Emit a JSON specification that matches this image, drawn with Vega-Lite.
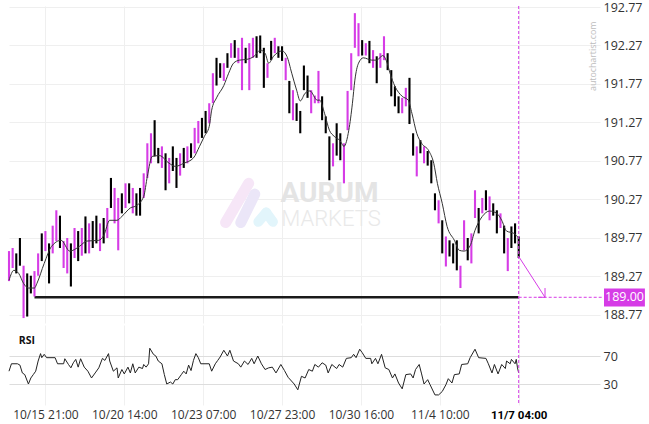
{
 "$schema": "https://vega.github.io/schema/vega-lite/v6.json",
 "padding": {"left": 7, "top": 1, "right": 0, "bottom": 0},
 "background": "white",
 "config": {"view": {"stroke": null}, "concat": {"spacing": 0}, "font": "Open Sans"},
 "datasets": {
  "candles": [
   {"i":0,"h":189.60,"l":189.21,"d":"up"},{"i":3,"h":189.64,"l":189.38,"d":"up"},{"i":6,"h":189.57,"l":189.31,"d":"down"},{"i":9,"h":189.77,"l":189.41,"d":"down"},
   {"i":12,"h":189.41,"l":188.73,"d":"up"},{"i":15,"h":189.31,"l":188.75,"d":"down"},{"i":18,"h":189.28,"l":189.05,"d":"down"},{"i":21,"h":189.34,"l":189.01,"d":"up"},
   {"i":24,"h":189.57,"l":189.28,"d":"up"},{"i":27,"h":189.83,"l":189.47,"d":"down"},{"i":30,"h":189.86,"l":189.60,"d":"up"},{"i":33,"h":189.70,"l":189.18,"d":"down"},
   {"i":36,"h":189.93,"l":189.57,"d":"up"},{"i":39,"h":190.13,"l":189.73,"d":"up"},{"i":42,"h":190.06,"l":189.64,"d":"down"},{"i":45,"h":189.73,"l":189.38,"d":"up"},
   {"i":48,"h":189.77,"l":189.31,"d":"up"},{"i":51,"h":189.70,"l":189.14,"d":"down"},{"i":54,"h":189.90,"l":189.51,"d":"up"},{"i":57,"h":189.86,"l":189.47,"d":"down"},
   {"i":60,"h":189.90,"l":189.54,"d":"up"},{"i":63,"h":190.05,"l":189.57,"d":"down"},{"i":66,"h":189.96,"l":189.57,"d":"up"},{"i":69,"h":189.99,"l":189.64,"d":"down"},
   {"i":72,"h":190.06,"l":189.70,"d":"down"},{"i":75,"h":189.96,"l":189.60,"d":"up"},{"i":78,"h":190.03,"l":189.70,"d":"down"},{"i":81,"h":190.16,"l":189.77,"d":"up"},
   {"i":84,"h":190.55,"l":190.16,"d":"down"},{"i":87,"h":190.42,"l":189.96,"d":"up"},{"i":90,"h":190.29,"l":189.61,"d":"up"},{"i":93,"h":190.35,"l":190.09,"d":"down"},
   {"i":96,"h":190.48,"l":190.16,"d":"up"},{"i":99,"h":190.48,"l":190.22,"d":"down"},{"i":102,"h":190.42,"l":190.09,"d":"up"},{"i":105,"h":190.35,"l":190.06,"d":"down"},
   {"i":108,"h":190.42,"l":190.06,"d":"down"},{"i":111,"h":190.61,"l":190.29,"d":"up"},{"i":114,"h":191.00,"l":190.55,"d":"up"},{"i":117,"h":191.13,"l":190.74,"d":"up"},
   {"i":120,"h":191.30,"l":190.83,"d":"down"},{"i":123,"h":190.94,"l":190.74,"d":"down"},{"i":126,"h":190.96,"l":190.68,"d":"up"},{"i":129,"h":190.87,"l":190.39,"d":"down"},
   {"i":132,"h":190.81,"l":190.48,"d":"up"},{"i":135,"h":190.96,"l":190.64,"d":"down"},{"i":138,"h":190.81,"l":190.42,"d":"down"},{"i":141,"h":190.87,"l":190.58,"d":"up"},
   {"i":144,"h":190.94,"l":190.68,"d":"down"},{"i":147,"h":190.96,"l":190.74,"d":"up"},{"i":150,"h":191.00,"l":190.81,"d":"down"},{"i":153,"h":191.20,"l":190.87,"d":"up"},
   {"i":156,"h":191.29,"l":191.00,"d":"up"},{"i":159,"h":191.33,"l":191.07,"d":"down"},{"i":162,"h":191.42,"l":191.13,"d":"down"},{"i":165,"h":191.52,"l":191.26,"d":"up"},
   {"i":168,"h":191.91,"l":191.52,"d":"up"},{"i":171,"h":192.11,"l":191.75,"d":"down"},{"i":174,"h":192.04,"l":191.85,"d":"down"},{"i":177,"h":192.04,"l":191.81,"d":"up"},
   {"i":180,"h":192.17,"l":191.98,"d":"down"},{"i":183,"h":192.30,"l":192.11,"d":"up"},{"i":186,"h":192.34,"l":192.11,"d":"down"},{"i":189,"h":192.24,"l":192.04,"d":"up"},
   {"i":192,"h":192.37,"l":191.69,"d":"up"},{"i":195,"h":192.24,"l":192.04,"d":"down"},{"i":198,"h":192.30,"l":191.69,"d":"up"},{"i":201,"h":192.37,"l":192.11,"d":"up"},
   {"i":204,"h":192.39,"l":192.11,"d":"down"},{"i":207,"h":192.40,"l":192.17,"d":"down"},{"i":210,"h":192.24,"l":191.72,"d":"down"},{"i":213,"h":192.04,"l":191.85,"d":"up"},
   {"i":216,"h":192.33,"l":192.08,"d":"down"},{"i":219,"h":192.37,"l":192.17,"d":"up"},{"i":222,"h":192.26,"l":192.11,"d":"down"},{"i":225,"h":192.26,"l":192.07,"d":"down"},
   {"i":228,"h":192.11,"l":191.82,"d":"up"},{"i":231,"h":191.81,"l":191.39,"d":"down"},{"i":234,"h":191.69,"l":191.30,"d":"up"},{"i":237,"h":191.52,"l":191.29,"d":"down"},
   {"i":240,"h":191.42,"l":191.13,"d":"down"},{"i":243,"h":192.01,"l":191.69,"d":"down"},{"i":246,"h":191.88,"l":191.59,"d":"down"},{"i":249,"h":191.69,"l":191.39,"d":"up"},
   {"i":252,"h":191.62,"l":191.52,"d":"up"},{"i":255,"h":191.94,"l":191.52,"d":"up"},{"i":258,"h":191.61,"l":191.30,"d":"down"},{"i":261,"h":191.35,"l":191.13,"d":"down"},
   {"i":264,"h":191.09,"l":190.52,"d":"down"},{"i":267,"h":191.00,"l":190.70,"d":"up"},{"i":270,"h":191.26,"l":190.84,"d":"down"},{"i":273,"h":191.13,"l":190.78,"d":"down"},
   {"i":276,"h":191.00,"l":190.48,"d":"up"},{"i":279,"h":191.68,"l":191.17,"d":"up"},{"i":282,"h":192.17,"l":191.69,"d":"up"},{"i":285,"h":192.69,"l":192.24,"d":"up"},
   {"i":288,"h":192.56,"l":192.13,"d":"up"},{"i":291,"h":192.34,"l":192.14,"d":"down"},{"i":294,"h":192.30,"l":192.14,"d":"up"},{"i":297,"h":192.33,"l":192.04,"d":"down"},
   {"i":300,"h":192.21,"l":191.98,"d":"up"},{"i":303,"h":192.13,"l":191.78,"d":"down"},{"i":306,"h":192.17,"l":191.98,"d":"up"},{"i":309,"h":192.39,"l":192.08,"d":"up"},
   {"i":312,"h":192.17,"l":191.95,"d":"down"},{"i":315,"h":191.95,"l":191.61,"d":"down"},{"i":318,"h":191.74,"l":191.48,"d":"down"},{"i":321,"h":191.61,"l":191.39,"d":"down"},
   {"i":324,"h":191.59,"l":191.39,"d":"up"},{"i":327,"h":191.72,"l":191.48,"d":"up"},{"i":330,"h":191.85,"l":191.25,"d":"down"},{"i":333,"h":191.13,"l":190.84,"d":"down"},
   {"i":336,"h":190.96,"l":190.57,"d":"up"},{"i":339,"h":191.04,"l":190.87,"d":"down"},{"i":342,"h":190.96,"l":190.74,"d":"up"},{"i":345,"h":190.90,"l":190.71,"d":"down"},
   {"i":348,"h":190.78,"l":190.48,"d":"down"},{"i":351,"h":190.35,"l":190.13,"d":"down"},{"i":354,"h":190.26,"l":189.96,"d":"up"},{"i":357,"h":190.00,"l":189.57,"d":"down"},
   {"i":360,"h":189.79,"l":189.40,"d":"up"},{"i":363,"h":189.74,"l":189.53,"d":"down"},{"i":366,"h":189.70,"l":189.44,"d":"down"},{"i":369,"h":189.74,"l":189.35,"d":"down"},
   {"i":372,"h":189.41,"l":189.12,"d":"up"},{"i":375,"h":190.00,"l":189.61,"d":"up"},{"i":378,"h":189.77,"l":189.48,"d":"down"},{"i":381,"h":189.83,"l":189.44,"d":"up"},
   {"i":384,"h":190.39,"l":190.03,"d":"up"},{"i":387,"h":190.16,"l":189.83,"d":"down"},{"i":390,"h":190.29,"l":190.09,"d":"up"},{"i":393,"h":190.39,"l":190.13,"d":"down"},
   {"i":396,"h":190.31,"l":190.00,"d":"up"},{"i":399,"h":190.22,"l":190.06,"d":"down"},{"i":402,"h":190.13,"l":189.83,"d":"down"},{"i":405,"h":190.09,"l":189.90,"d":"up"},
   {"i":408,"h":189.93,"l":189.57,"d":"down"},{"i":411,"h":189.77,"l":189.34,"d":"up"},{"i":414,"h":189.92,"l":189.64,"d":"down"},{"i":417,"h":189.96,"l":189.70,"d":"down"},
   {"i":420,"h":189.79,"l":189.51,"d":"down"}
  ],
  "ma": [
   {"i":0,"v":189.22},{"i":4,"v":189.35},{"i":8,"v":189.31},{"i":12,"v":189.18},{"i":16,"v":189.12},{"i":21,"v":189.12},{"i":23,"v":189.18},{"i":29,"v":189.44},
   {"i":35,"v":189.66},{"i":43,"v":189.74},{"i":50,"v":189.60},{"i":58,"v":189.66},{"i":64,"v":189.73},{"i":74,"v":189.74},{"i":78,"v":189.80},{"i":83,"v":190.00},
   {"i":89,"v":190.00},{"i":93,"v":190.05},{"i":100,"v":190.16},{"i":105,"v":190.19},{"i":111,"v":190.31},{"i":114,"v":190.57},{"i":118,"v":190.83},{"i":124,"v":190.84},
   {"i":132,"v":190.74},{"i":137,"v":190.70},{"i":144,"v":190.74},{"i":152,"v":190.81},{"i":157,"v":190.96},{"i":161,"v":191.09},{"i":165,"v":191.22},{"i":167,"v":191.43},
   {"i":171,"v":191.59},{"i":177,"v":191.75},{"i":181,"v":191.91},{"i":185,"v":192.04},{"i":190,"v":192.08},{"i":196,"v":192.09},{"i":202,"v":192.13},{"i":207,"v":192.21},
   {"i":211,"v":192.17},{"i":214,"v":192.04},{"i":218,"v":192.13},{"i":225,"v":192.20},{"i":229,"v":192.13},{"i":233,"v":191.91},{"i":237,"v":191.69},{"i":240,"v":191.55},
   {"i":244,"v":191.65},{"i":248,"v":191.68},{"i":254,"v":191.56},{"i":256,"v":191.56},{"i":260,"v":191.39},{"i":264,"v":191.17},{"i":268,"v":191.09},{"i":273,"v":191.03},
   {"i":276,"v":190.96},{"i":280,"v":191.17},{"i":283,"v":191.52},{"i":285,"v":191.82},{"i":288,"v":192.04},{"i":292,"v":192.11},{"i":299,"v":192.08},{"i":303,"v":192.08},
   {"i":308,"v":192.14},{"i":311,"v":192.07},{"i":314,"v":191.91},{"i":318,"v":191.74},{"i":324,"v":191.61},{"i":329,"v":191.56},{"i":332,"v":191.39},{"i":336,"v":191.13},
   {"i":340,"v":191.00},{"i":346,"v":190.90},{"i":350,"v":190.74},{"i":353,"v":190.48},{"i":357,"v":190.22},{"i":361,"v":189.92},{"i":367,"v":189.74},{"i":371,"v":189.61},
   {"i":375,"v":189.60},{"i":380,"v":189.67},{"i":384,"v":189.87},{"i":390,"v":190.05},{"i":396,"v":190.12},{"i":402,"v":190.09},{"i":406,"v":190.00},{"i":410,"v":189.86},
   {"i":416,"v":189.83},{"i":420,"v":189.77}
  ],
  "rsi": [
   {"i":0,"v":48.3},{"i":2,"v":58.9},{"i":7,"v":58.9},{"i":9,"v":57},{"i":11,"v":45.8},{"i":13,"v":43.4},{"i":16,"v":30},{"i":18,"v":38.6},{"i":20,"v":43.4},{"i":22,"v":48.3},
   {"i":24,"v":62.8},{"i":26,"v":73.4},{"i":27,"v":67.6},{"i":29,"v":72.4},{"i":31,"v":67.6},{"i":38,"v":67.6},{"i":40,"v":58.9},{"i":45,"v":58.9},{"i":46,"v":66.1},{"i":49,"v":57.9},
   {"i":51,"v":53.1},{"i":53,"v":60.3},{"i":55,"v":65.2},{"i":57,"v":54.1},{"i":59,"v":66.1},{"i":62,"v":54.1},{"i":65,"v":48.3},{"i":68,"v":38.6},{"i":71,"v":45.8},{"i":74,"v":53.1},
   {"i":77,"v":66.6},{"i":79,"v":63.7},{"i":82,"v":73.4},{"i":83,"v":62.8},{"i":86,"v":48.3},{"i":89,"v":53.1},{"i":90,"v":38.6},{"i":93,"v":50.7},{"i":95,"v":44.4},{"i":98,"v":54.1},
   {"i":100,"v":45.8},{"i":102,"v":58.9},{"i":104,"v":45.8},{"i":107,"v":54.1},{"i":110,"v":52.1},{"i":111,"v":57.9},{"i":113,"v":54.1},{"i":115,"v":58.9},{"i":116,"v":81.1},{"i":119,"v":72.4},
   {"i":121,"v":70},{"i":123,"v":62.8},{"i":126,"v":58.9},{"i":128,"v":43.4},{"i":130,"v":30},{"i":133,"v":32.8},{"i":135,"v":30},{"i":137,"v":36.2},{"i":139,"v":36.2},{"i":142,"v":43.4},
   {"i":144,"v":48.3},{"i":146,"v":44.4},{"i":148,"v":57},{"i":150,"v":49.2},{"i":152,"v":63.7},{"i":154,"v":73.4},{"i":156,"v":67.6},{"i":158,"v":58.9},{"i":165,"v":58.9},{"i":167,"v":48.3},
   {"i":170,"v":58.9},{"i":172,"v":63.7},{"i":174,"v":68.6},{"i":177,"v":78.2},{"i":180,"v":70},{"i":182,"v":78.2},{"i":185,"v":62.8},{"i":189,"v":58.9},{"i":191,"v":54.1},{"i":194,"v":62.8},
   {"i":197,"v":57.9},{"i":200,"v":66.6},{"i":202,"v":58.9},{"i":205,"v":70},{"i":208,"v":58.9},{"i":211,"v":50.7},{"i":214,"v":53.1},{"i":217,"v":54.1},{"i":220,"v":45.8},{"i":224,"v":57.9},
   {"i":227,"v":49.2},{"i":230,"v":39.6},{"i":235,"v":30},{"i":238,"v":21.7},{"i":241,"v":41},{"i":244,"v":38.6},{"i":247,"v":50.7},{"i":250,"v":48.3},{"i":252,"v":57.9},{"i":255,"v":54.1},
   {"i":258,"v":60.3},{"i":261,"v":57},{"i":263,"v":45.8},{"i":266,"v":57.9},{"i":270,"v":52.1},{"i":272,"v":57.9},{"i":275,"v":54.1},{"i":278,"v":66.6},{"i":282,"v":67.6},{"i":284,"v":72.4},
   {"i":286,"v":67.6},{"i":289,"v":79.7},{"i":291,"v":74.9},{"i":294,"v":66.6},{"i":298,"v":66.6},{"i":299,"v":58.9},{"i":302,"v":66.6},{"i":304,"v":58.9},{"i":307,"v":72.4},{"i":310,"v":53.1},
   {"i":313,"v":50.7},{"i":316,"v":38.6},{"i":318,"v":44.4},{"i":321,"v":31.4},{"i":324,"v":23.1},{"i":327,"v":43.4},{"i":331,"v":44.4},{"i":333,"v":38.6},{"i":335,"v":50.7},{"i":338,"v":57.9},
   {"i":340,"v":44.4},{"i":342,"v":30},{"i":345,"v":36.2},{"i":347,"v":28.9},{"i":351,"v":14.4},{"i":354,"v":14.4},{"i":357,"v":19.3},{"i":360,"v":28.9},{"i":362,"v":37.6},{"i":365,"v":31.4},
   {"i":367,"v":43.4},{"i":371,"v":44.4},{"i":373,"v":57.9},{"i":378,"v":58.9},{"i":380,"v":67.6},{"i":384,"v":79.7},{"i":387,"v":67.6},{"i":393,"v":66.6},{"i":395,"v":58.9},{"i":398,"v":45.8},
   {"i":400,"v":57.9},{"i":403,"v":44.4},{"i":406,"v":57.9},{"i":409,"v":52.1},{"i":410,"v":62.8},{"i":413,"v":58.9},{"i":414,"v":65.2},{"i":417,"v":58.9},{"i":418,"v":65.2},{"i":419,"v":53.1},
   {"i":420,"v":45.8}
  ],
  "level": [{"i": 21, "i2": 420, "p": 189.0}],
  "arrow": [
   {"i": 420, "p": 189.53, "i2": 441.7, "p2": 189.0},
   {"i": 441.7, "p": 189.0, "i2": 441.7, "p2": 189.12},
   {"i": 441.7, "p": 189.0, "i2": 436, "p2": 189.0}
  ]
 },
 "vconcat": [
  {
   "width": 591, "height": 317,
   "layer": [
    {
     "data": {"name": "level"},
     "mark": {"type": "rule", "color": "#1a1a1a", "strokeWidth": 2.5},
     "encoding": {
      "x": {"field": "i", "type": "quantitative", "scale": {"domain": [0, 487], "nice": false, "zero": false},
            "axis": {"values": [30, 95, 160, 225, 290, 355, 420], "tickCount": 20, "labels": false, "ticks": false, "domain": false, "grid": true, "gridColor": "#efefef", "title": null}},
      "x2": {"field": "i2"},
      "y": {"field": "p", "type": "quantitative", "scale": {"domain": [188.666, 192.783], "nice": false, "zero": false},
            "axis": {"orient": "right", "values": [188.77, 189.27, 189.77, 190.27, 190.77, 191.27, 191.77, 192.27, 192.77], "tickCount": 20, "format": ".2f", "labelOverlap": false, "labelFlush": false, "domain": false, "ticks": false, "grid": true, "gridColor": "#efefef", "labelFontSize": 12.5, "labelColor": "#333333", "labelPadding": 3, "title": null}}
     }
    },
    {"data": {"values": [{}]}, "mark": {"type": "rule", "strokeWidth": 11, "strokeCap": "round", "color": "#f6e6f7"},
     "encoding": {"x": {"datum": 178.5}, "y": {"datum": 189.97}, "x2": {"datum": 197.5}, "y2": {"datum": 190.48}}},
    {"data": {"values": [{}]}, "mark": {"type": "rule", "strokeWidth": 11, "strokeCap": "round", "color": "#ebe6f8"},
     "encoding": {"x": {"datum": 191}, "y": {"datum": 189.97}, "x2": {"datum": 202.5}, "y2": {"datum": 190.34}}},
    {"data": {"values": [{}]}, "mark": {"type": "rule", "strokeWidth": 10, "strokeCap": "round", "color": "#e2f5fb"},
     "encoding": {"x": {"datum": 205.5}, "y": {"datum": 189.98}, "x2": {"datum": 212}, "y2": {"datum": 190.1}}},
    {"data": {"values": [{}]}, "mark": {"type": "rule", "strokeWidth": 10, "strokeCap": "round", "color": "#e2f5fb"},
     "encoding": {"x": {"datum": 212}, "y": {"datum": 190.1}, "x2": {"datum": 217.5}, "y2": {"datum": 189.98}}},
    {"data": {"values": [{"t": "AURUM"}]}, "mark": {"type": "text", "font": "Roboto", "fontWeight": "bold", "fontSize": 28, "color": "#e4e4e4", "align": "center", "baseline": "alphabetic"},
     "encoding": {"x": {"datum": 264.1}, "y": {"datum": 190.235}, "text": {"field": "t"}}},
    {"data": {"values": [{"t": "MARKETS"}]}, "mark": {"type": "text", "font": "Roboto", "fontWeight": 300, "fontSize": 22, "color": "#e9e9e9", "align": "center", "baseline": "alphabetic"},
     "encoding": {"x": {"datum": 265.3}, "y": {"datum": 189.93}, "text": {"field": "t"}}},
    {
     "data": {"name": "candles"},
     "mark": {"type": "rule", "strokeWidth": 2.1},
     "encoding": {
      "x": {"field": "i", "type": "quantitative"},
      "y": {"field": "h", "type": "quantitative"},
      "y2": {"field": "l"},
      "color": {"field": "d", "type": "nominal", "scale": {"domain": ["up", "down"], "range": ["#d63ce6", "#000000"]}, "legend": null}
     }
    },
    {
     "data": {"name": "ma"},
     "mark": {"type": "line", "color": "#333333", "strokeWidth": 1, "interpolate": "monotone"},
     "encoding": {"x": {"field": "i", "type": "quantitative"}, "y": {"field": "v", "type": "quantitative"}}
    },
    {"data": {"values": [{}]}, "mark": {"type": "rule", "color": "#d63ce6", "strokeDash": [3, 2], "strokeWidth": 1},
     "encoding": {"x": {"datum": 420}}},
    {"data": {"values": [{}]}, "mark": {"type": "rule", "color": "#d63ce6", "strokeDash": [3, 2], "strokeWidth": 1},
     "encoding": {"x": {"datum": 420}, "x2": {"datum": 490}, "y": {"datum": 189.0}}},
    {
     "data": {"name": "arrow"},
     "mark": {"type": "rule", "color": "#d63ce6", "strokeWidth": 1},
     "encoding": {"x": {"field": "i", "type": "quantitative"}, "x2": {"field": "i2"}, "y": {"field": "p", "type": "quantitative"}, "y2": {"field": "p2"}}
    },
    {"data": {"values": [{}]}, "mark": {"type": "rect", "color": "#d63ce6"},
     "encoding": {"x": {"datum": 490.3}, "x2": {"datum": 524}, "y": {"datum": 189.115}, "y2": {"datum": 188.88}}},
    {"data": {"values": [{"t": "189.00"}]}, "mark": {"type": "text", "color": "white", "fontSize": 12.5, "align": "center", "baseline": "middle"},
     "encoding": {"x": {"datum": 507.2}, "y": {"datum": 189.0}, "text": {"field": "t"}}},
    {"data": {"values": [{"t": "autochartist.com"}]}, "mark": {"type": "text", "color": "#bdbdbd", "fontSize": 8.8, "angle": 270, "align": "center", "baseline": "middle"},
     "encoding": {"x": {"datum": 481.6}, "y": {"datum": 192.13}, "text": {"field": "t"}}}
   ]
  },
  {
   "width": 591, "height": 80,
   "layer": [
    {
     "data": {"name": "rsi"},
     "mark": {"type": "line", "color": "#222222", "strokeWidth": 1},
     "encoding": {
      "x": {"field": "i", "type": "quantitative", "scale": {"domain": [0, 487], "nice": false, "zero": false},
            "axis": {"values": [30, 95, 160, 225, 290, 355, 420], "tickCount": 20, "ticks": false, "domain": false, "grid": true, "gridColor": "#f0f0f0", "title": null,
                     "labelExpr": "datum.value == 30 ? '10/15 21:00' : datum.value == 95 ? '10/20 14:00' : datum.value == 160 ? '10/23 07:00' : datum.value == 225 ? '10/27 23:00' : datum.value == 290 ? '10/30 16:00' : datum.value == 355 ? '11/4 10:00' : '11/7 04:00'",
                     "labelFontSize": {"condition": {"test": "datum.value == 420", "value": 11.5}, "value": 12},
                     "labelFont": {"condition": {"test": "datum.value == 420", "value": "Roboto"}, "value": "Open Sans"},
                     "labelFontWeight": {"condition": {"test": "datum.value == 420", "value": "bold"}, "value": "normal"},
                     "labelColor": {"condition": {"test": "datum.value == 420", "value": "#000000"}, "value": "#333333"},
                     "labelOverlap": false, "labelFlush": false, "labelPadding": 4}},
      "y": {"field": "v", "type": "quantitative", "scale": {"domain": [0, 114.3], "nice": false, "zero": false},
            "axis": {"orient": "right", "values": [30, 70], "tickCount": 10, "labelOverlap": false, "domain": false, "ticks": false, "grid": true, "gridColor": "#dddddd", "labelFontSize": 12.5, "labelColor": "#333333", "labelPadding": 3, "title": null}}
     }
    },
    {"data": {"values": [{}]}, "mark": {"type": "rule", "color": "#d63ce6", "strokeDash": [3, 2], "strokeWidth": 1},
     "encoding": {"x": {"datum": 420}}},
    {"data": {"values": [{"t": "RSI"}]}, "mark": {"type": "text", "fontSize": 10.5, "fontWeight": "bold", "color": "#111111", "align": "left", "baseline": "middle"},
     "encoding": {"x": {"datum": 8}, "y": {"datum": 92}, "text": {"field": "t"}}}
   ]
  }
 ]
}
